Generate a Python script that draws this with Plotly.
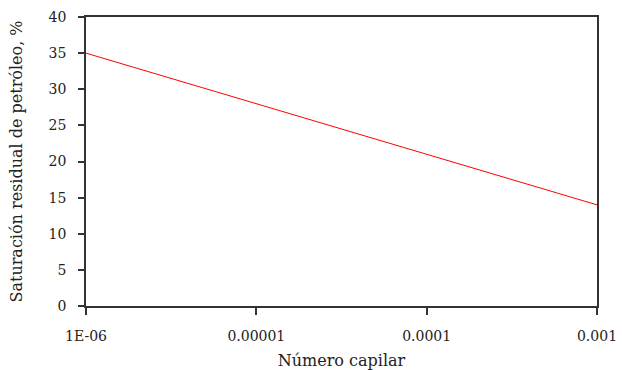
import plotly.graph_objects as go

capillary_number = [1e-6, 1e-5, 1e-4, 1e-3]
residual_oil_sat = [35, 28, 21, 14]
x_tick_vals = [1e-6, 1e-5, 1e-4, 1e-3]
x_tick_text = ["1E-06", "0.00001", "0.0001", "0.001"]

font_family = "DejaVu Serif, Liberation Serif, serif"

fig = go.Figure()
fig.add_trace(go.Scatter(
    x=capillary_number, y=residual_oil_sat, mode="lines",
    line=dict(color="#ff0000", width=1), showlegend=False,
))

fig.update_layout(
    width=622, height=370,
    margin=dict(l=86, r=25, t=17, b=64, autoexpand=False),
    paper_bgcolor="white", plot_bgcolor="white",
    font=dict(family=font_family, size=14, color="#222222"),
)
fig.update_xaxes(
    type="log", range=[-6, -3],
    tickvals=x_tick_vals, ticktext=x_tick_text,
    showgrid=False, zeroline=False, automargin=False,
    showline=True, linecolor="#333333", linewidth=1.5, mirror=True,
    ticks="outside", ticklen=7, tickcolor="#333333", tickwidth=1.5,
    ticklabelstandoff=9,
    title=dict(text="Número capilar", standoff=15, font=dict(size=16)),
    tickfont=dict(size=14),
)
fig.update_yaxes(
    range=[0, 40], dtick=5,
    showgrid=False, zeroline=False, automargin=False,
    showline=True, linecolor="#333333", linewidth=1.5, mirror=True,
    ticks="outside", ticklen=6, tickcolor="#333333", tickwidth=1.5,
    ticklabelstandoff=9,
    title=dict(text="Saturación residual de petróleo, %", standoff=22, font=dict(size=16)),
    tickfont=dict(size=14),
)

fig.write_html(
    "out.html",
    config={"displayModeBar": False},
    post_script="document.body.style.margin='0';document.body.style.overflow='hidden';",
)
